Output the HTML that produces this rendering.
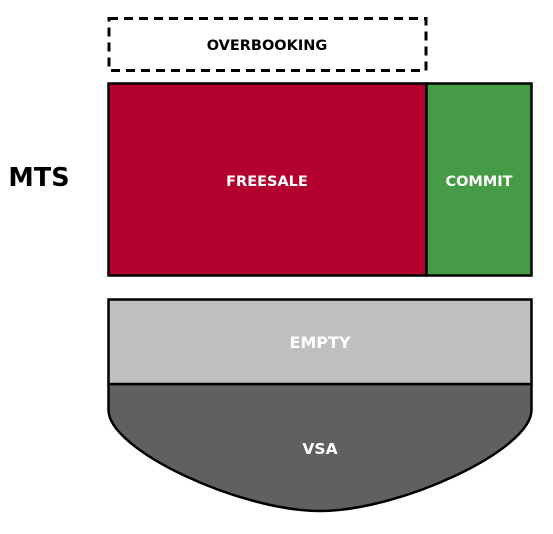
<!DOCTYPE html>
<html><head><style>
body{margin:0;background:#fff;}
</style></head><body>
<svg width="553" height="534" xmlns="http://www.w3.org/2000/svg" style="display:block">
<g font-family="DejaVu Sans, Verdana, sans-serif" font-weight="bold" text-anchor="middle">
<rect x="109" y="18.5" width="317" height="52" fill="none" stroke="#000" stroke-width="3" stroke-dasharray="9,6"/>
<text x="267" y="50" font-size="14.5">OVERBOOKING</text>
<rect x="108.5" y="83.5" width="318" height="192" fill="#b4002f" stroke="#000" stroke-width="2.5"/>
<rect x="426.5" y="83.5" width="105" height="192" fill="#469c46" stroke="#000" stroke-width="2.5"/>
<text x="267" y="186" font-size="14.5" fill="#fff">FREESALE</text>
<text x="479" y="186" font-size="14.5" fill="#fff">COMMIT</text>
<text x="39" y="186" font-size="25.5" fill="#000">MTS</text>
<path d="M108.5 384 L531.5 384 L531.5 410 C531.5 450 400 511 320 511 C240 511 108.5 450 108.5 410 Z" fill="#606060" stroke="#000" stroke-width="2.5"/>
<rect x="108.5" y="299.5" width="423" height="84.5" fill="#bfbfbf" stroke="#000" stroke-width="2.5"/>
<text x="320" y="348" font-size="16" fill="#fff">EMPTY</text>
<text x="320" y="454" font-size="15.5" fill="#fff">VSA</text>
</g>
</svg>
</body></html>
